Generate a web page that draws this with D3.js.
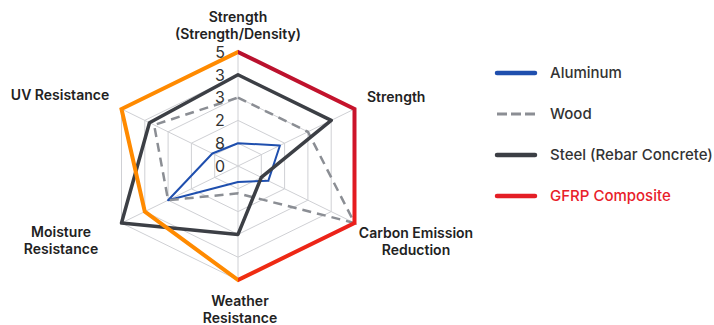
<!DOCTYPE html>
<html>
<head>
<meta charset="utf-8">
<script src="https://cdn.jsdelivr.net/npm/d3@7"></script>
<style>
  body { margin: 0; background: #fff; }
  svg { display: block; font-family: Inter, Roboto, "Noto Sans", sans-serif; }
</style>
</head>
<body>
<div class="radar-chart"><svg></svg></div>
<script>
const axes = [
  ["Strength", "(Strength/Density)"],
  ["Strength"],
  ["Carbon Emission", "Reduction"],
  ["Weather", "Resistance"],
  ["Moisture", "Resistance"],
  ["UV Resistance"]
];
const levels = [0, 1, 2, 3, 4, 5];
const tickLabels = ["0", "8", "2", "3", "3", "5"];

const seriesNames = ["Aluminum", "Wood", "Steel (Rebar Concrete)", "GFRP Composite"];
const aluminum = [1, 1.8, 1.3, 0.7, 3, 1.1];
const wood = [3, 3, 5, 1.2, 3, 3.6];
const steel = [4, 4, 1, 3, 5, 3.8];
const gfrp = [5, 5, 5, 5, 4, 5];

const colors = ["#1f4fae", "#8b8e94", "#3c3f45", "#e41e26"];

const width = 714;
const height = 325;
const cx = 238;
const cy = 166;
const stretchX = 1.18;

const svg = d3.select('.radar-chart svg').attr('width', width).attr('height', height);

const r = d3.scaleLinear().domain([0, 5]).range([0, 114]);
const angle = d3.scaleLinear().domain([0, axes.length]).range([0, 2 * Math.PI]);

function point(i, v) {
  const a = angle(i);
  return [cx + stretchX * r(v) * Math.sin(a), cy - r(v) * Math.cos(a)];
}

const defs = svg.append('defs');

// GFRP line: crimson at the top right, bright red lower down, orange on the left half
const grad = defs.append('linearGradient')
  .attr('id', 'gfrp-red')
  .attr('gradientUnits', 'userSpaceOnUse')
  .attr('x1', 0).attr('y1', cy - 120)
  .attr('x2', 0).attr('y2', cy + 120);
grad.append('stop').attr('offset', '0%').attr('stop-color', '#b5102e');
grad.append('stop').attr('offset', '40%').attr('stop-color', '#d0152a');
grad.append('stop').attr('offset', '70%').attr('stop-color', '#ea1d1d');
grad.append('stop').attr('offset', '100%').attr('stop-color', '#f0300f');

defs.append('clipPath').attr('id', 'clip-left')
  .append('rect').attr('x', 0).attr('y', 0).attr('width', cx).attr('height', height);
defs.append('clipPath').attr('id', 'clip-right')
  .append('rect').attr('x', cx).attr('y', 0).attr('width', width - cx).attr('height', height);

const grid = svg.append('g').attr('class', 'grid');

levels.slice(1).forEach((lv) => {
  grid.append('polygon')
    .attr('points', axes.map((d, i) => point(i, lv).join(',')).join(' '))
    .attr('fill', 'none')
    .attr('stroke', '#cfd0d4')
    .attr('stroke-width', 1);
});

axes.forEach((d, i) => {
  const [x, y] = point(i, 5);
  grid.append('line')
    .attr('x1', cx).attr('y1', cy)
    .attr('x2', x).attr('y2', y)
    .attr('stroke', '#cfd0d4')
    .attr('stroke-width', 1);
});

const line = d3.line()
  .x((d, i) => point(i, d)[0])
  .y((d, i) => point(i, d)[1])
  .curve(d3.curveLinearClosed);

const series = svg.append('g').attr('class', 'series');

series.append('path')
  .attr('d', line(aluminum))
  .attr('fill', 'none')
  .attr('stroke', colors[0])
  .attr('stroke-width', 2)
  .attr('stroke-linejoin', 'round');

series.append('path')
  .attr('d', line(wood))
  .attr('fill', 'none')
  .attr('stroke', colors[1])
  .attr('stroke-width', 2.5)
  .attr('stroke-dasharray', '9,6');

series.append('path')
  .attr('d', line(steel))
  .attr('fill', 'none')
  .attr('stroke', colors[2])
  .attr('stroke-width', 3.5)
  .attr('stroke-linejoin', 'round');

series.append('path')
  .attr('d', line(gfrp))
  .attr('clip-path', 'url(#clip-left)')
  .attr('fill', 'none')
  .attr('stroke', '#ff8a00')
  .attr('stroke-width', 4);

series.append('path')
  .attr('d', line(gfrp))
  .attr('clip-path', 'url(#clip-right)')
  .attr('fill', 'none')
  .attr('stroke', 'url(#gfrp-red)')
  .attr('stroke-width', 4);

// tick labels on the top axis
svg.append('g').selectAll('text')
  .data(levels)
  .join('text')
  .attr('x', cx - 18)
  .attr('y', (d) => cy - r(d))
  .attr('dy', '0.36em')
  .attr('text-anchor', 'middle')
  .attr('font-size', 16)
  .attr('fill', '#333')
  .text((d, i) => tickLabels[i]);

// axis labels
const labelPos = [
  { x: 238, y: 17, anchor: 'middle' },
  { x: 367, y: 97, anchor: 'start' },
  { x: 416, y: 233, anchor: 'middle' },
  { x: 240, y: 301, anchor: 'middle' },
  { x: 61, y: 232, anchor: 'middle' },
  { x: 60, y: 95, anchor: 'middle' }
];

axes.forEach((lines, i) => {
  const t = svg.append('text')
    .attr('x', labelPos[i].x)
    .attr('y', labelPos[i].y)
    .attr('text-anchor', labelPos[i].anchor)
    .attr('font-size', 14)
    .attr('font-weight', 600)
    .attr('fill', '#222');
  lines.forEach((s, j) => {
    t.append('tspan')
      .attr('x', labelPos[i].x)
      .attr('dy', j === 0 ? '0.35em' : '1.2em')
      .text(s);
  });
});

// legend
const legend = svg.append('g').attr('transform', 'translate(497,73)');
const legendItems = legend.selectAll('g')
  .data(seriesNames)
  .join('g')
  .attr('transform', (d, i) => `translate(0,${i * 41})`);

legendItems.append('line')
  .attr('x1', 0).attr('x2', 38)
  .attr('y1', 0).attr('y2', 0)
  .attr('stroke', (d, i) => colors[i])
  .attr('stroke-width', (d, i) => (i === 1 ? 3 : 4.5))
  .attr('stroke-linecap', (d, i) => (i === 1 ? 'butt' : 'round'))
  .attr('stroke-dasharray', (d, i) => (i === 1 ? '10,4' : null));

legendItems.append('text')
  .attr('x', 53)
  .attr('dy', '0.35em')
  .attr('font-size', 15)
  .attr('font-weight', 500)
  .attr('fill', (d, i) => (i === 3 ? '#e8202a' : '#333'))
  .text((d) => d);
</script>
</body>
</html>
